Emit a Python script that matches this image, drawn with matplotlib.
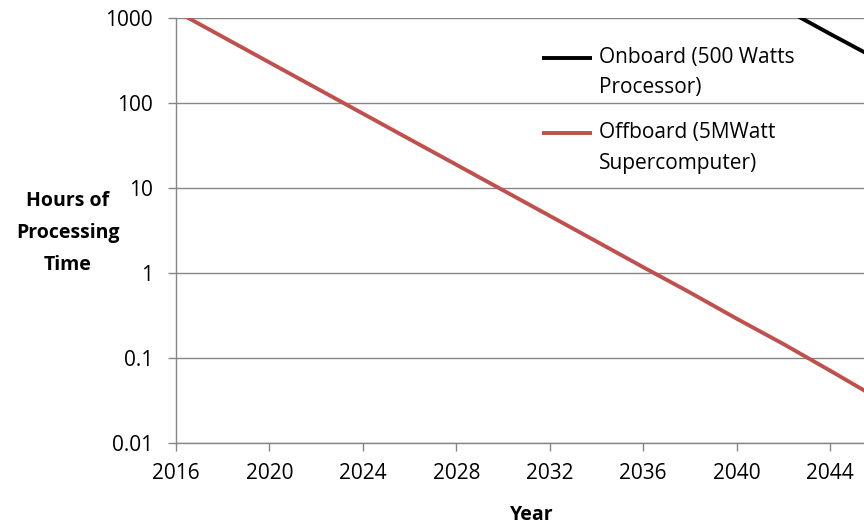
import numpy as np
import matplotlib
matplotlib.use("Agg")
import matplotlib.pyplot as plt
from matplotlib.ticker import FixedLocator, FuncFormatter, NullLocator
from matplotlib.legend_handler import HandlerLine2D

plt.rcParams['font.family'] = ['Open Sans', 'DejaVu Sans']

# data (hours of processing time, halving every ~2 years)
years = [2016, 2018, 2020, 2022, 2024, 2026, 2028, 2030, 2032, 2034,
         2036, 2038, 2040, 2042, 2044, 2046]
offboard = [1200, 600, 300, 150, 75, 37.5, 18.8, 9.4, 4.7, 2.35,
            1.17, 0.59, 0.29, 0.146, 0.071, 0.034]
onboard_years = [2042, 2044, 2046]
onboard = [1300, 650, 330]

labels = ['Onboard (500 Watts\nProcessor)', 'Offboard (5MWatt\nSupercomputer)']
xticks = [2016, 2020, 2024, 2028, 2032, 2036, 2040, 2044]
yticks = [0.01, 0.1, 1, 10, 100, 1000]

grey = '#868686'
fs = 15


class FirstLineHandler(HandlerLine2D):
    # put the legend line next to the first line of a two line label
    def create_artists(self, legend, orig_handle, xdescent, ydescent,
                       width, height, fontsize, trans):
        arts = super().create_artists(legend, orig_handle, xdescent, ydescent,
                                      width, height, fontsize, trans)
        for a in arts:
            a.set_ydata(np.asarray(a.get_ydata()) + fontsize * 0.75)
        return arts


fig = plt.figure(figsize=(8.64, 5.29), dpi=100)
ax = fig.add_axes([176 / 864, 1 - 443 / 529, (864 - 176) / 864, 425 / 529])

l1, = ax.plot(onboard_years, onboard, color='black', lw=2.8, label=labels[0],
              solid_capstyle='butt')
l2, = ax.plot(years, offboard, color='#c0504d', lw=2.8, label=labels[1],
              solid_capstyle='butt')

ax.set_yscale('log')
ax.set_ylim(0.01, 1000)
ax.set_xlim(2016, 2045.45)

ax.xaxis.set_major_locator(FixedLocator(xticks))
ax.yaxis.set_major_locator(FixedLocator(yticks))
ax.yaxis.set_minor_locator(NullLocator())
ax.yaxis.set_major_formatter(FuncFormatter(lambda v, p: '{:g}'.format(v)))

ax.grid(axis='y', color=grey, lw=1.0)
ax.set_axisbelow(True)
for s in ['top', 'right']:
    ax.spines[s].set_visible(False)
for s in ['left', 'bottom']:
    ax.spines[s].set_color(grey)
    ax.spines[s].set_linewidth(1.0)

ax.tick_params(axis='both', colors=grey, labelcolor='black', labelsize=fs,
               length=6, width=1.0, direction='out')
ax.tick_params(axis='x', pad=8.5)
ax.tick_params(axis='y', pad=10.5)

ax.set_xlabel('Year', fontsize=14, fontweight='bold')
ax.xaxis.set_label_coords((532 - 176) / 688, (443 - 505) / 425)
ax.set_ylabel('Hours of\nProcessing\nTime', fontsize=14, fontweight='bold',
              rotation=0, ha='center', va='center', linespacing=1.8)
ax.yaxis.set_label_coords((68 - 176) / 688, (443 - 233) / 425)

leg = fig.legend(handles=[l1, l2], loc='upper left',
                 bbox_to_anchor=(542 / 864, 1 - 47 / 529), frameon=False,
                 fontsize=fs, handlelength=2.4, handletextpad=0.35,
                 labelspacing=1.15, borderpad=0, borderaxespad=0,
                 handler_map={l1: FirstLineHandler(), l2: FirstLineHandler()})
for t in leg.get_texts():
    t.set_linespacing(1.58)

fig.savefig('out.png', dpi=100)
